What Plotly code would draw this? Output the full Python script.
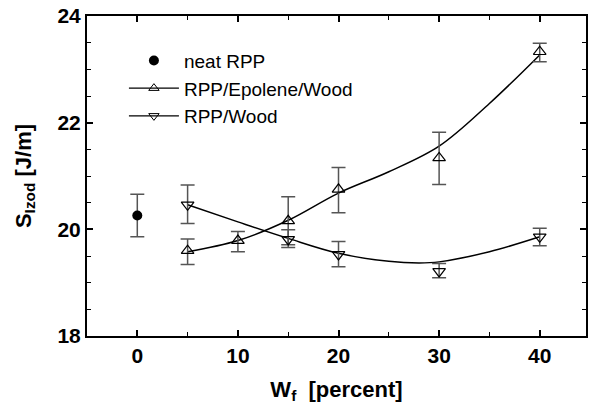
import plotly.graph_objects as go

# ---- data ----
neat_x = [0]
neat_y = [20.26]
neat_err = [0.40]

epo_x = [5, 10, 15, 20, 30, 40]
epo_y = [19.60, 19.79, 20.16, 20.75, 21.34, 23.33]
epo_err_plus = [0.22, 0.17, 0.45, 0.41, 0.48, 0.16]
epo_err_minus = [0.26, 0.21, 0.45, 0.44, 0.50, 0.19]

wood_x = [5, 15, 20, 30, 40]
wood_y = [20.46, 19.81, 19.53, 19.21, 19.86]
wood_err_plus = [0.37, 0.18, 0.24, 0.15, 0.16]
wood_err_minus = [0.35, 0.15, 0.23, 0.12, 0.17]

# fitted curves
epo_fit_x = [5, 10, 15, 20, 25, 30, 35, 40]
epo_fit_y = [19.58, 19.79, 20.17, 20.68, 21.08, 21.56, 22.36, 23.27]
wood_fit_x = [5, 10, 15, 20, 25, 28, 30, 35, 40]
wood_fit_y = [20.46, 20.14, 19.83, 19.55, 19.40, 19.37, 19.39, 19.58, 19.86]

x_ticks = [0, 10, 20, 30, 40]
y_ticks = [18, 20, 22, 24]

names = ["neat RPP", "RPP/Epolene/Wood", "RPP/Wood"]

err_color = "#555555"
FONT = "Liberation Sans, Arial"
fig = go.Figure()

# fit curves
fig.add_trace(go.Scatter(x=epo_fit_x, y=epo_fit_y, mode="lines", showlegend=False,
                         line=dict(color="black", width=1.5, shape="spline", smoothing=1.0)))
fig.add_trace(go.Scatter(x=wood_fit_x, y=wood_fit_y, mode="lines", showlegend=False,
                         line=dict(color="black", width=1.5, shape="spline", smoothing=1.0)))

# data points
fig.add_trace(go.Scatter(x=neat_x, y=neat_y, mode="markers", showlegend=False,
                         marker=dict(symbol="circle", size=10, color="black"),
                         error_y=dict(type="data", array=neat_err, color=err_color, thickness=1.5, width=7)))
fig.add_trace(go.Scatter(x=epo_x, y=epo_y, mode="markers", showlegend=False,
                         marker=dict(symbol="triangle-up-open", size=11, color="black", line=dict(width=1.2)),
                         error_y=dict(type="data", symmetric=False, array=epo_err_plus,
                                      arrayminus=epo_err_minus, color=err_color, thickness=1.5, width=7)))
fig.add_trace(go.Scatter(x=wood_x, y=wood_y, mode="markers", showlegend=False,
                         marker=dict(symbol="triangle-down-open", size=11, color="black", line=dict(width=1.2)),
                         error_y=dict(type="data", symmetric=False, array=wood_err_plus,
                                      arrayminus=wood_err_minus, color=err_color, thickness=1.5, width=7)))

# legend-only entries
fig.add_trace(go.Scatter(x=[None], y=[None], mode="markers", name=names[0],
                         marker=dict(symbol="circle", size=10, color="black")))
fig.add_trace(go.Scatter(x=[None], y=[None], mode="lines+markers", name=names[1],
                         line=dict(color="black", width=1.2),
                         marker=dict(symbol="triangle-up-open", size=9, color="black", line=dict(width=1))))
fig.add_trace(go.Scatter(x=[None], y=[None], mode="lines+markers", name=names[2],
                         line=dict(color="black", width=1.2),
                         marker=dict(symbol="triangle-down-open", size=9, color="black", line=dict(width=1))))

axis_common = dict(
    showgrid=False, zeroline=False, showline=True, linecolor="black", linewidth=2,
    mirror="ticks", ticks="inside", ticklen=6, tickwidth=1.5, tickcolor="black",
    tickfont=dict(family=FONT, size=21, color="black", weight="bold"),
)

fig.update_layout(
    width=589, height=409,
    margin=dict(l=87, r=1, t=16, b=73),
    plot_bgcolor="white", paper_bgcolor="white",
    xaxis=dict(range=[-5, 44.6], tickvals=x_ticks,
               minor=dict(dtick=5, ticks="inside", ticklen=4, tickcolor="black", tickwidth=1.2),
               title=dict(text="W<sub>f</sub>  [percent]", standoff=15,
                          font=dict(family=FONT, size=22, color="black", weight="bold")),
               **axis_common),
    yaxis=dict(range=[18, 24], tickvals=y_ticks,
               minor=dict(dtick=0.5, ticks="inside", ticklen=4, tickcolor="black", tickwidth=1.2),
               title=dict(text="S<sub>Izod</sub> [J/m]", standoff=20,
                          font=dict(family=FONT, size=22, color="black", weight="bold")),
               **axis_common),
    legend=dict(x=0.074, y=0.92, xanchor="left", yanchor="top", bgcolor="rgba(0,0,0,0)",
                itemwidth=50, tracegroupgap=0,
                font=dict(family=FONT, size=19, color="black")),
    showlegend=True,
)

fig.write_html("out.html")
